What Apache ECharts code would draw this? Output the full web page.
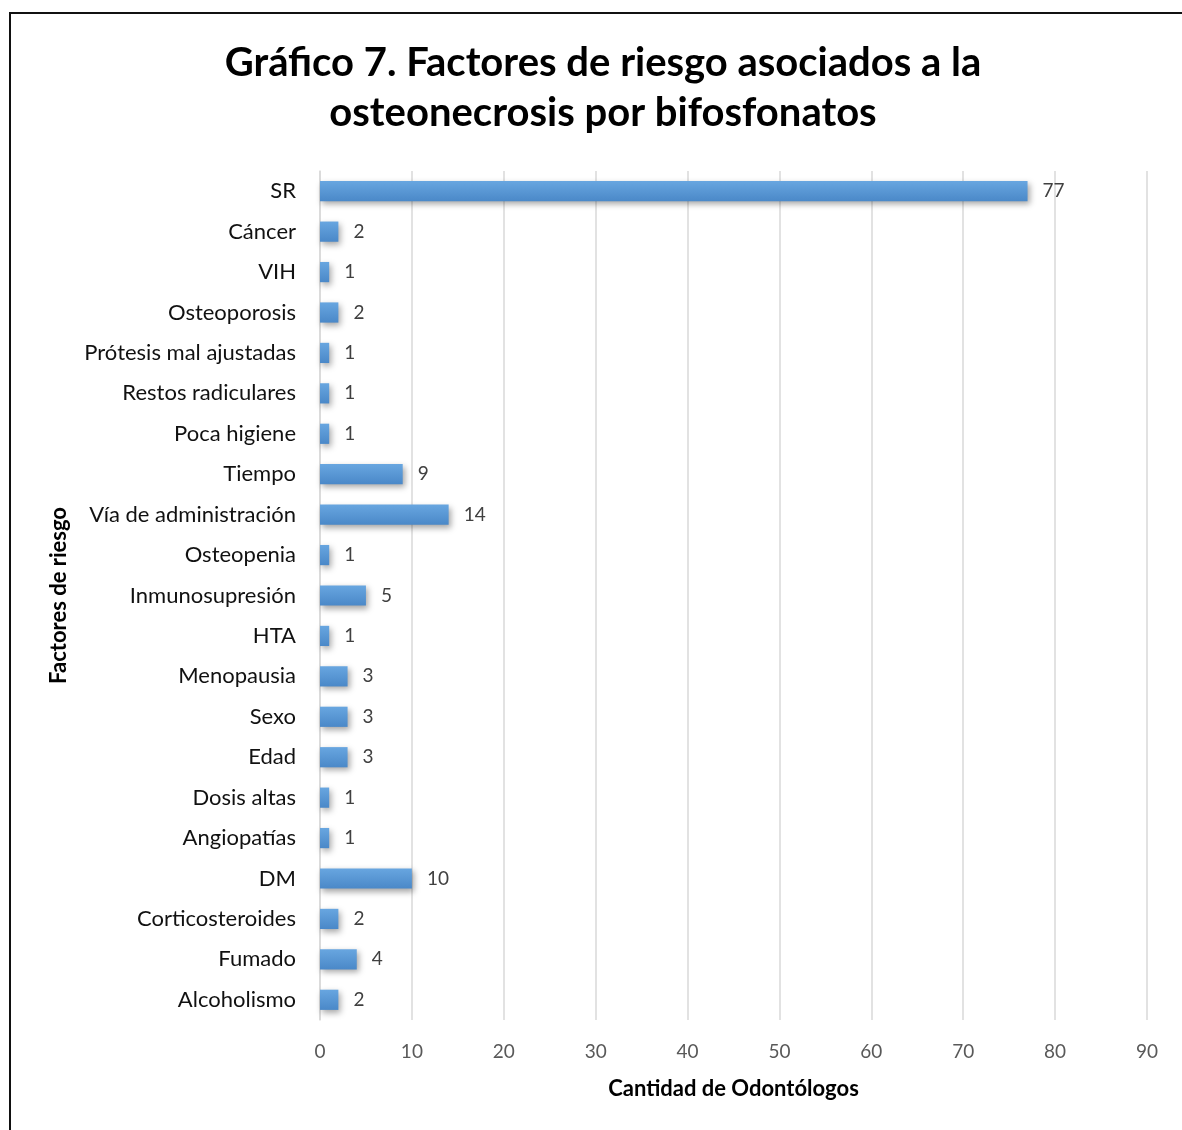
<!DOCTYPE html>
<html><head><meta charset="utf-8">
<script src="https://cdn.jsdelivr.net/npm/echarts@6/dist/echarts.min.js"></script>
<style>
html,body{margin:0;padding:0;background:#fff;overflow:hidden}
#frame{position:absolute;left:9px;top:12px;width:1400px;height:1400px;border:2px solid #111;box-sizing:border-box}
#c{position:absolute;left:0;top:0;width:1182px;height:1130px}
</style></head>
<body>
<div id="frame"></div>
<div id="c"></div>
<script>
const categories = ["SR","Cáncer","VIH","Osteoporosis","Prótesis mal ajustadas","Restos radiculares","Poca higiene","Tiempo","Vía de administración","Osteopenia","Inmunosupresión","HTA","Menopausia","Sexo","Edad","Dosis altas","Angiopatías","DM","Corticosteroides","Fumado","Alcoholismo"];
const values = [77,2,1,2,1,1,1,9,14,1,5,1,3,3,3,1,1,10,2,4,2];
const xTicks = [0,10,20,30,40,50,60,70,80,90];
const titleText = "Gráfico 7. Factores de riesgo asociados a la\nosteonecrosis por bifosfonatos";
const xName = "Cantidad de Odontólogos";
const yName = "Factores de riesgo";

const font = "Lato, 'Open Sans', sans-serif";
const chart = echarts.init(document.getElementById('c'));
chart.setOption({
  backgroundColor: 'transparent',
  animation: false,
  title: {
    text: titleText,
    left: 598, top: 33, textAlign: 'center',
    textStyle: {fontFamily: font, fontSize: 40, fontWeight: 'bold', color: '#000', lineHeight: 50}
  },
  grid: {left: 320, right: 35, top: 171, bottom: 110, containLabel: false},
  xAxis: {
    type: 'value', min: xTicks[0], max: xTicks[xTicks.length-1], interval: 10,
    name: xName, nameLocation: 'middle', nameGap: 58,
    nameTextStyle: {fontFamily: font, fontSize: 22, fontWeight: 'bold', color: '#000'},
    axisLine: {show: false}, axisTick: {show: false},
    axisLabel: {fontFamily: font, fontSize: 19, color: '#595959', margin: 22},
    splitLine: {show: true, lineStyle: {color: '#d9d9d9', width: 1.5}}
  },
  yAxis: {
    type: 'category', data: categories, inverse: true,
    name: yName, nameLocation: 'middle', nameGap: 250, nameRotate: 90,
    nameTextStyle: {fontFamily: font, fontSize: 22, fontWeight: 'bold', color: '#000'},
    axisLine: {show: true, lineStyle: {color: '#d9d9d9', width: 1.5}},
    axisTick: {show: false},
    axisLabel: {fontFamily: font, fontSize: 22, color: '#111', margin: 24}
  },
  series: [{
    type: 'bar', data: values, barCategoryGap: '50%',
    itemStyle: {
      color: new echarts.graphic.LinearGradient(0,0,0,1,[{offset:0,color:'#68a6e0'},{offset:1,color:'#4a88c8'}]),
      shadowColor: 'rgba(0,0,0,0.35)', shadowBlur: 6, shadowOffsetX: 2, shadowOffsetY: 3
    },
    label: {show: true, position: 'right', distance: 15, fontFamily: font, fontSize: 19, color: '#404040'}
  }]
});
</script>
</body></html>
